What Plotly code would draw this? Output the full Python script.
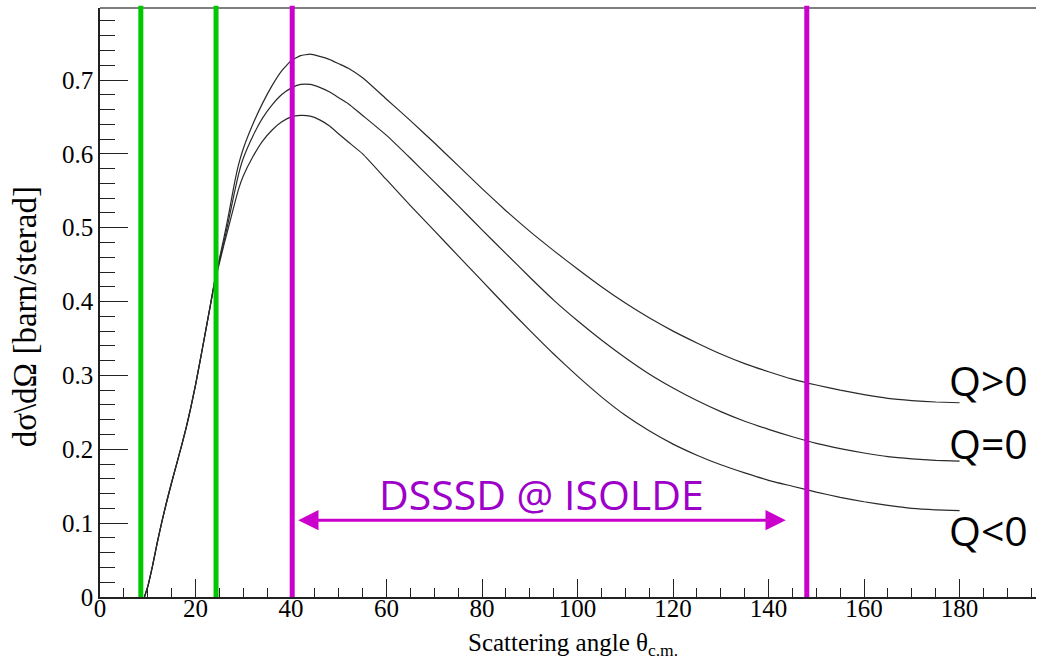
import plotly.graph_objects as go

# ---------------- data ----------------
angle = [9.3, 10, 11, 12, 13, 14, 15, 16, 17, 18, 19, 20, 21, 22, 23,
         24, 25, 26, 27, 28, 29, 30, 32, 34, 36, 38, 40, 42, 44, 46, 48, 50, 52, 55,
         60, 65, 70, 75, 80, 85, 90, 95, 100, 105, 110, 115, 120, 125, 130, 135,
         140, 145, 150, 155, 160, 165, 170, 175, 180]

rise = [0.0, 0.014, 0.042, 0.074, 0.103, 0.130, 0.155, 0.179, 0.203, 0.228,
        0.256, 0.287, 0.321, 0.356, 0.391]

q_pos = rise + [0.428, 0.458, 0.488, 0.520, 0.555, 0.585, 0.607, 0.640, 0.668, 0.692,
                0.712, 0.726, 0.733, 0.735, 0.732, 0.728, 0.722, 0.716, 0.703,
                0.674, 0.645, 0.615, 0.584, 0.553, 0.523, 0.495, 0.469, 0.444, 0.420,
                0.398, 0.378, 0.360, 0.344, 0.329, 0.316, 0.305, 0.295, 0.287, 0.280,
                0.274, 0.269, 0.266, 0.264, 0.263]

q_zero = rise + [0.427, 0.455, 0.482, 0.512, 0.543, 0.572, 0.594, 0.624, 0.648, 0.666,
                 0.680, 0.689, 0.694, 0.694, 0.690, 0.684, 0.676, 0.668, 0.652,
                 0.625, 0.594, 0.562, 0.530, 0.497, 0.465, 0.433, 0.402, 0.374, 0.348,
                 0.324, 0.302, 0.283, 0.266, 0.251, 0.238, 0.227, 0.217, 0.208, 0.201,
                 0.195, 0.190, 0.187, 0.185, 0.184]

q_neg = rise + [0.425, 0.452, 0.478, 0.503, 0.528, 0.552, 0.570, 0.596, 0.617, 0.632,
                0.643, 0.650, 0.652, 0.651, 0.646, 0.638, 0.627, 0.616, 0.600,
                0.565, 0.530, 0.496, 0.462, 0.428, 0.394, 0.361, 0.329, 0.299, 0.271,
                0.246, 0.225, 0.207, 0.192, 0.179, 0.168, 0.158, 0.150, 0.142, 0.135,
                0.129, 0.124, 0.120, 0.118, 0.117]

series_labels = ["Q>0", "Q=0", "Q<0"]
label_y = [0.294, 0.208, 0.091]

green_lines = [8.55, 24.3]
magenta_lines = [40.25, 148.0]
arrow_span = [41.2, 143.6]
arrow_y = 0.104
region_label = "DSSSD @ ISOLDE"

x_ticks = [0, 20, 40, 60, 80, 100, 120, 140, 160, 180]
x_title = "Scattering angle θ<sub>c.m.</sub>"
y_title = "dσ\\dΩ [barn/sterad]"

SERIF = "Liberation Serif"

# ---------------- figure ----------------
fig = go.Figure()
for vals in (q_pos, q_zero, q_neg):
    fig.add_trace(go.Scatter(
        x=angle, y=vals, mode="lines",
        line=dict(color="#2a2a2a", width=1.2, shape="spline", smoothing=0.4),
        showlegend=False, hoverinfo="skip"))

shapes = []
for gx in green_lines:
    shapes.append(dict(type="line", xref="x", yref="paper", x0=gx, x1=gx, y0=0, y1=1.004,
                       line=dict(color="#00c800", width=5)))
for mx in magenta_lines:
    shapes.append(dict(type="line", xref="x", yref="paper", x0=mx, x1=mx, y0=0, y1=1.004,
                       line=dict(color="#cc00cc", width=5)))
# top frame line
shapes.append(dict(type="line", xref="paper", yref="paper", x0=0, x1=1, y0=1, y1=1,
                   line=dict(color="#555555", width=1.5), layer="below"))

annotations = []
for lab, ly in zip(series_labels, label_y):
    annotations.append(dict(x=186, y=ly, xref="x", yref="y", text=lab, showarrow=False,
                            xanchor="center", yanchor="middle",
                            font=dict(family="Open Sans", size=41, color="black")))
annotations.append(dict(x=arrow_span[1], y=arrow_y, ax=arrow_span[0], ay=arrow_y,
                        xref="x", yref="y", axref="x", ayref="y", text="",
                        showarrow=True, arrowhead=2, arrowside="end+start",
                        arrowwidth=3, arrowsize=1.35, arrowcolor="#cc00cc"))
annotations.append(dict(x=(arrow_span[0] + arrow_span[1]) / 2, y=0.139, xref="x", yref="y",
                        text=region_label, showarrow=False, xanchor="center", yanchor="middle",
                        font=dict(family="Open Sans", size=41, color="#9d00c9")))
# axis titles
annotations.append(dict(x=0.505, y=-0.080, xref="paper", yref="paper", text=x_title,
                        showarrow=False, xanchor="center", yanchor="middle",
                        font=dict(family=SERIF, size=25, color="black")))
annotations.append(dict(x=-0.080, y=0.475, xref="paper", yref="paper", text=y_title,
                        showarrow=False, xanchor="center", yanchor="middle", textangle=-90,
                        font=dict(family=SERIF, size=33, color="black")))

fig.update_layout(
    width=1038, height=661,
    margin=dict(l=100, r=2, t=8, b=64),
    paper_bgcolor="white", plot_bgcolor="white",
    font=dict(family=SERIF, size=26, color="black"),
    shapes=shapes, annotations=annotations,
    xaxis=dict(range=[0, 196], tickvals=x_ticks, ticks="inside", ticklen=18, tickwidth=1.2,
               tickcolor="#222", showline=True, linecolor="#222", linewidth=1.5,
               showgrid=False, zeroline=False, ticklabelstandoff=-12,
               minor=dict(dtick=5, tick0=0, ticks="inside", ticklen=9, tickwidth=1.1,
                          tickcolor="#222", showgrid=False),
               tickfont=dict(family=SERIF, size=25, color="black")),
    yaxis=dict(range=[0, 0.7975], dtick=0.1, tick0=0, ticks="inside", ticklen=28, tickwidth=1.2,
               tickcolor="#222", showline=True, linecolor="#222", linewidth=1.5,
               showgrid=False, zeroline=False,
               minor=dict(dtick=0.02, tick0=0, ticks="inside", ticklen=15, tickwidth=1.1,
                          tickcolor="#222", showgrid=False),
               tickfont=dict(family=SERIF, size=25, color="black")),
)

fig.write_html("out.html")
